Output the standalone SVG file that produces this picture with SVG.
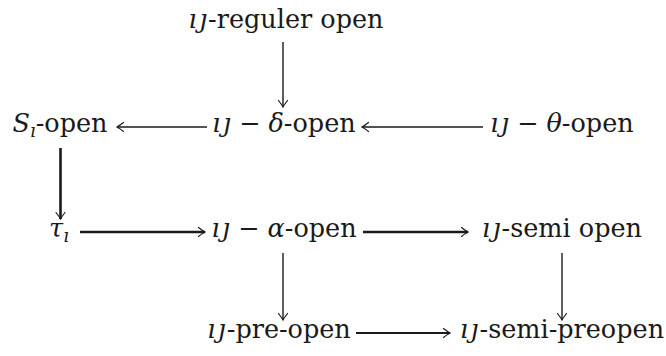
<svg xmlns="http://www.w3.org/2000/svg" width="666" height="356" viewBox="0 0 666 356">
<style>
text{font-family:"DejaVu Serif","Liberation Serif",serif;font-size:25.5px;fill:#1a1a1a;text-anchor:middle}
.i{font-style:italic}
.sub{font-style:italic;font-size:18px}
.c{fill:none;stroke:#1a1a1a;stroke-width:1.4}
.t{stroke-width:2.6}
.m{stroke-width:1.8}
</style>
<defs>
<marker id="ah" markerUnits="userSpaceOnUse" viewBox="-8 -6 10 12" markerWidth="10" markerHeight="12" refX="0" refY="0" orient="auto">
<path d="M-6.5,-4.5 Q-2,-1 0,0 Q-2,1 -6.5,4.5" fill="none" stroke="#1a1a1a" stroke-width="1.2" stroke-linecap="round"/>
</marker>
</defs>
<g id="n-reguler"><text x="286" y="28"><tspan class="i">ı</tspan><tspan class="i" dx="2.5">ȷ</tspan><tspan dx="1">-reguler open</tspan></text></g>
<g id="n-S"><text x="60" y="132"><tspan class="i">S</tspan><tspan class="sub" dy="5">ı</tspan><tspan dy="-5">-open</tspan></text></g>
<g id="n-delta"><text x="284" y="132"><tspan class="i">ı</tspan><tspan class="i" dx="2.5">ȷ</tspan> − <tspan class="i">δ</tspan>-open</text></g>
<g id="n-theta"><text x="562" y="132"><tspan class="i">ı</tspan><tspan class="i" dx="2.5">ȷ</tspan> − <tspan class="i">θ</tspan>-open</text></g>
<g id="n-tau"><text x="59" y="237"><tspan class="i">τ</tspan><tspan class="sub" dy="5">ı</tspan></text></g>
<g id="n-alpha"><text x="284" y="237"><tspan class="i">ı</tspan><tspan class="i" dx="2.5">ȷ</tspan> − <tspan class="i">α</tspan>-open</text></g>
<g id="n-semi"><text x="562" y="237"><tspan class="i">ı</tspan><tspan class="i" dx="2.5">ȷ</tspan><tspan dx="1">-semi open</tspan></text></g>
<g id="n-pre"><text x="279" y="338"><tspan class="i">ı</tspan><tspan class="i" dx="2.5">ȷ</tspan><tspan dx="1">-pre-open</tspan></text></g>
<g id="n-semipre"><text x="562" y="338"><tspan class="i">ı</tspan><tspan class="i" dx="2.5">ȷ</tspan><tspan dx="1">-semi-preopen</tspan></text></g>
<g id="connectors">
<path class="c" d="M283,42 V107" marker-end="url(#ah)"/>
<path class="c" d="M207,127 H117" marker-end="url(#ah)"/>
<path class="c" d="M483,127 H362" marker-end="url(#ah)"/>
<path class="c t" d="M60.5,148 V219" marker-end="url(#ah)"/>
<path class="c t" d="M80,232 H205" marker-end="url(#ah)"/>
<path class="c t" d="M363,232 H468" marker-end="url(#ah)"/>
<path class="c" d="M283,253 V320" marker-end="url(#ah)"/>
<path class="c" d="M562,253 V320" marker-end="url(#ah)"/>
<path class="c m" d="M356,333 H450" marker-end="url(#ah)"/>
</g>
</svg>
